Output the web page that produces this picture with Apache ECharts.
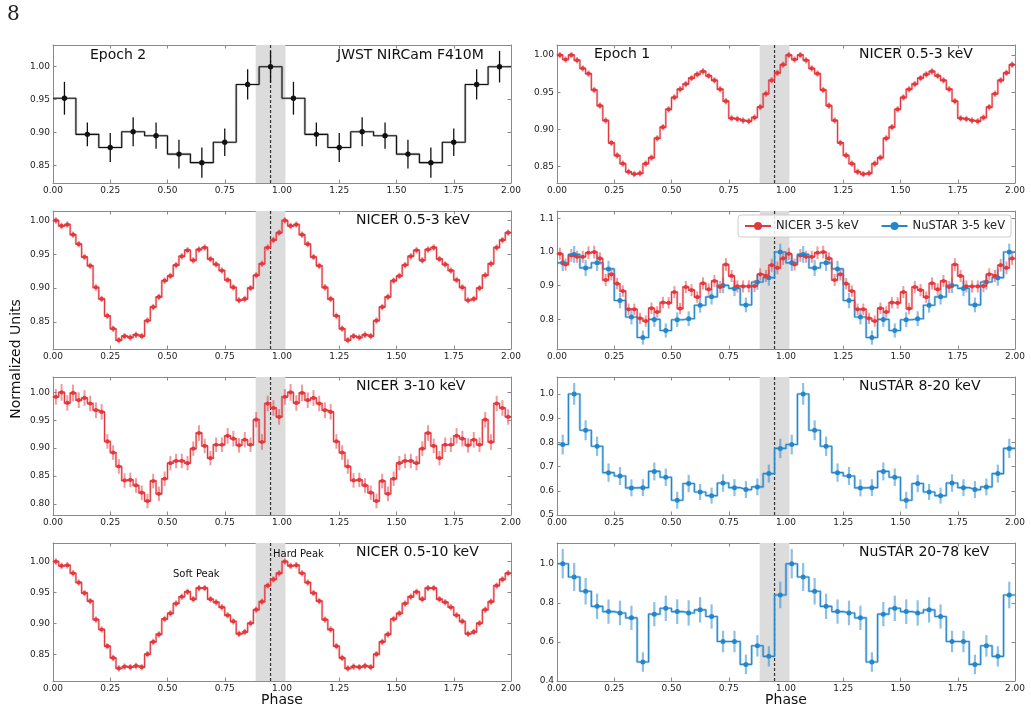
<!DOCTYPE html>
<html>
<head>
<meta charset="utf-8">
<script src="https://cdn.jsdelivr.net/npm/echarts@6/dist/echarts.min.js"></script>
<style>
  html, body { margin: 0; padding: 0; background: #ffffff; }
  #main { width: 1031px; height: 711px; }
</style>
</head>
<body>
<div id="main"></div>
<script>
// ---- data (one pulse cycle per array; the figure plots two cycles) ----
const phaseTicks = [0, 0.25, 0.5, 0.75, 1, 1.25, 1.5, 1.75, 2];
const bandPhase = [0.885, 1.015];
const peakPhase = 0.95;

const jwstValues = [0.952, 0.897, 0.877, 0.901, 0.895, 0.867, 0.854, 0.885, 0.973, 1.000];
const jwstErrors = [0.025, 0.018, 0.022, 0.022, 0.020, 0.022, 0.023, 0.021, 0.023, 0.024];

const nicerEp1SoftValues = [1.000, 0.994, 1.000, 0.993, 0.982, 0.975, 0.953, 0.932, 0.912, 0.882,
  0.865, 0.854, 0.843, 0.840, 0.841, 0.854, 0.862, 0.888, 0.903, 0.927,
  0.943, 0.954, 0.961, 0.969, 0.974, 0.978, 0.972, 0.966, 0.954, 0.938,
  0.915, 0.914, 0.912, 0.911, 0.916, 0.930, 0.948, 0.966, 0.976, 0.987];
const nicerEp1SoftErrors = [0.003, 0.003, 0.003, 0.003, 0.003, 0.003, 0.003, 0.003, 0.003, 0.003,
  0.003, 0.003, 0.003, 0.003, 0.003, 0.003, 0.003, 0.003, 0.003, 0.003,
  0.003, 0.003, 0.003, 0.003, 0.003, 0.003, 0.003, 0.003, 0.003, 0.003,
  0.003, 0.003, 0.003, 0.003, 0.003, 0.003, 0.003, 0.003, 0.003, 0.003];

const nicerSoftValues = [1.000, 0.992, 0.994, 0.979, 0.965, 0.946, 0.933, 0.901, 0.884, 0.859,
  0.840, 0.823, 0.829, 0.827, 0.831, 0.829, 0.852, 0.872, 0.887, 0.911,
  0.918, 0.934, 0.947, 0.956, 0.941, 0.957, 0.960, 0.943, 0.935, 0.926,
  0.912, 0.901, 0.882, 0.884, 0.900, 0.919, 0.936, 0.960, 0.971, 0.982];
const nicerSoftErrors = [0.003, 0.003, 0.003, 0.003, 0.003, 0.003, 0.003, 0.003, 0.003, 0.003,
  0.003, 0.003, 0.003, 0.003, 0.003, 0.003, 0.003, 0.003, 0.003, 0.003,
  0.003, 0.003, 0.003, 0.003, 0.003, 0.003, 0.003, 0.003, 0.003, 0.003,
  0.003, 0.003, 0.003, 0.003, 0.003, 0.003, 0.003, 0.003, 0.003, 0.003];

const nicer35Values = [0.995, 0.963, 0.990, 0.986, 0.986, 0.998, 1.000, 0.981, 0.917, 0.934,
  0.906, 0.884, 0.830, 0.830, 0.803, 0.795, 0.833, 0.822, 0.850, 0.849,
  0.881, 0.832, 0.896, 0.887, 0.866, 0.907, 0.889, 0.914, 0.896, 0.963,
  0.929, 0.898, 0.898, 0.898, 0.899, 0.934, 0.929, 0.961, 0.953, 0.981];
const nicer35Errors = [0.018, 0.018, 0.019, 0.018, 0.018, 0.019, 0.019, 0.018, 0.018, 0.018,
  0.017, 0.017, 0.017, 0.017, 0.017, 0.017, 0.017, 0.017, 0.017, 0.017,
  0.018, 0.017, 0.018, 0.018, 0.017, 0.018, 0.018, 0.018, 0.018, 0.019,
  0.018, 0.018, 0.018, 0.018, 0.018, 0.018, 0.018, 0.019, 0.019, 0.019];

const nustar35Values = [0.968, 0.993, 0.953, 0.968, 0.950, 0.856, 0.807, 0.746, 0.800, 0.767,
  0.799, 0.802, 0.842, 0.867, 0.901, 0.892, 0.843, 0.911, 0.924, 1.000];
const nustar35Errors = [0.024, 0.025, 0.024, 0.024, 0.024, 0.023, 0.022, 0.021, 0.022, 0.021,
  0.022, 0.022, 0.022, 0.023, 0.023, 0.023, 0.022, 0.023, 0.024, 0.025];

const nicerHardValues = [0.992, 1.000, 0.981, 0.999, 0.986, 0.990, 0.980, 0.968, 0.965, 0.912,
  0.892, 0.867, 0.842, 0.843, 0.833, 0.820, 0.805, 0.841, 0.818, 0.845,
  0.873, 0.877, 0.877, 0.873, 0.899, 0.927, 0.904, 0.882, 0.906, 0.906,
  0.922, 0.917, 0.905, 0.915, 0.906, 0.951, 0.911, 0.980, 0.972, 0.956];
const nicerHardErrors = [0.014, 0.015, 0.014, 0.015, 0.014, 0.014, 0.014, 0.014, 0.014, 0.013,
  0.013, 0.013, 0.013, 0.013, 0.013, 0.013, 0.013, 0.013, 0.013, 0.013,
  0.013, 0.013, 0.013, 0.013, 0.013, 0.014, 0.013, 0.013, 0.013, 0.013,
  0.014, 0.014, 0.013, 0.014, 0.013, 0.014, 0.014, 0.014, 0.014, 0.014];

const nustar820Values = [0.791, 1.000, 0.850, 0.784, 0.675, 0.661, 0.612, 0.613, 0.680, 0.656,
  0.561, 0.630, 0.595, 0.580, 0.632, 0.613, 0.605, 0.616, 0.671, 0.775];
const nustar820Errors = [0.041, 0.045, 0.041, 0.040, 0.038, 0.037, 0.035, 0.035, 0.037, 0.036,
  0.035, 0.036, 0.033, 0.033, 0.036, 0.035, 0.035, 0.035, 0.037, 0.040];

const nicerBroadValues = [1.000, 0.993, 0.994, 0.981, 0.966, 0.949, 0.936, 0.906, 0.890, 0.863,
  0.844, 0.827, 0.830, 0.829, 0.831, 0.829, 0.850, 0.870, 0.882, 0.907,
  0.916, 0.932, 0.943, 0.951, 0.939, 0.957, 0.957, 0.939, 0.934, 0.926,
  0.913, 0.903, 0.883, 0.886, 0.900, 0.922, 0.935, 0.961, 0.971, 0.981];
const nicerBroadErrors = nicerSoftErrors;

const nustar2078Values = [1.000, 0.932, 0.859, 0.782, 0.755, 0.748, 0.723, 0.497, 0.742, 0.772,
  0.755, 0.748, 0.764, 0.730, 0.602, 0.602, 0.485, 0.580, 0.526, 0.840];
const nustar2078Errors = [0.075, 0.072, 0.068, 0.065, 0.062, 0.063, 0.062, 0.050, 0.062, 0.065,
  0.063, 0.065, 0.065, 0.062, 0.055, 0.055, 0.050, 0.055, 0.052, 0.068];

// ---- styles ----
const FONT = 'DejaVu Sans';
const palette = {
  black: { dark: '#111111', light: 'rgba(120,120,120,0.4)', err: '#111111', errW: 1.3, r: 2.7, stepW: 2.6, cross: 0 },
  red: { dark: '#e2393e', light: 'rgba(236,90,96,0.4)', err: 'rgba(230,70,76,0.55)', errW: 2, r: 2.1, stepW: 2.4, cross: 3.2 },
  blue: { dark: '#2586c9', light: 'rgba(64,152,214,0.45)', err: 'rgba(50,140,205,0.55)', errW: 2.2, r: 2.5, stepW: 2.6, cross: 0 }
};

const leftX = 53, rightX = 557, plotW = 458, plotH = 138;
const rowTops = [45, 211, 377, 543];

const panels = [
  { x: leftX, y: rowTops[0], yMin: 0.823, yMax: 1.033, ticks: [0.85, 0.90, 0.95, 1.00], dec: 2,
    sets: [{ values: jwstValues, errors: jwstErrors, col: 'black' }] },
  { x: rightX, y: rowTops[0], yMin: 0.828, yMax: 1.0135, ticks: [0.85, 0.90, 0.95, 1.00], dec: 2,
    sets: [{ values: nicerEp1SoftValues, errors: nicerEp1SoftErrors, col: 'red' }] },
  { x: leftX, y: rowTops[1], yMin: 0.810, yMax: 1.014, ticks: [0.85, 0.90, 0.95, 1.00], dec: 2,
    sets: [{ values: nicerSoftValues, errors: nicerSoftErrors, col: 'red' }] },
  { x: rightX, y: rowTops[1], yMin: 0.712, yMax: 1.122, ticks: [0.8, 0.9, 1.0, 1.1], dec: 1,
    sets: [{ values: nustar35Values, errors: nustar35Errors, col: 'blue', name: 'NuSTAR 3-5 keV' },
           { values: nicer35Values, errors: nicer35Errors, col: 'red', name: 'NICER 3-5 keV' }] },
  { x: leftX, y: rowTops[2], yMin: 0.780, yMax: 1.0276, ticks: [0.80, 0.85, 0.90, 0.95, 1.00], dec: 2,
    sets: [{ values: nicerHardValues, errors: nicerHardErrors, col: 'red' }] },
  { x: rightX, y: rowTops[2], yMin: 0.5, yMax: 1.070, ticks: [0.5, 0.6, 0.7, 0.8, 0.9, 1.0], dec: 1,
    sets: [{ values: nustar820Values, errors: nustar820Errors, col: 'blue' }] },
  { x: leftX, y: rowTops[3], yMin: 0.8066, yMax: 1.030, ticks: [0.85, 0.90, 0.95, 1.00], dec: 2,
    sets: [{ values: nicerBroadValues, errors: nicerBroadErrors, col: 'red' }] },
  { x: rightX, y: rowTops[3], yMin: 0.4, yMax: 1.106, ticks: [0.4, 0.6, 0.8, 1.0], dec: 1,
    sets: [{ values: nustar2078Values, errors: nustar2078Errors, col: 'blue' }] }
];

// two cycles of bin centres, values and errors
function twoCycles(values, errors) {
  const n = values.length;
  const pts = [];
  for (let c = 0; c < 2; c++) {
    for (let i = 0; i < n; i++) {
      pts.push([c + (i + 0.5) / n, values[i], errors[i]]);
    }
  }
  return pts;
}

function stepData(pts) {
  const d = pts.map(p => [p[0], p[1]]);
  d.unshift([0, pts[0][1]]);
  d.push([2, pts[pts.length - 1][1]]);
  return d;
}

function errRender(col) {
  const s = palette[col];
  return function (params, api) {
    const x = api.value(0), y = api.value(1), e = api.value(2);
    const c = api.coord([x, y]);
    const t = api.coord([x, y + e]);
    const b = api.coord([x, y - e]);
    const top = Math.min(t[1], c[1] - s.cross), bot = Math.max(b[1], c[1] + s.cross);
    const kids = [
      { type: 'line', shape: { x1: c[0], y1: top, x2: c[0], y2: bot },
        style: { stroke: s.err, lineWidth: s.errW } }
    ];
    if (s.cross) {
      kids.push({ type: 'line', shape: { x1: c[0] - s.cross, y1: c[1], x2: c[0] + s.cross, y2: c[1] },
        style: { stroke: s.dark, lineWidth: 1.6 } });
    }
    kids.push({ type: 'circle', shape: { cx: c[0], cy: c[1], r: s.r }, style: { fill: s.dark } });
    return { type: 'group', children: kids };
  };
}

function bandRender(params, api) {
  const cs = params.coordSys;
  const x0 = api.coord([api.value(0), 1])[0];
  const x1 = api.coord([api.value(1), 1])[0];
  const xp = api.coord([peakPhase, 1])[0];
  return {
    type: 'group',
    children: [
      { type: 'rect', shape: { x: x0, y: cs.y, width: x1 - x0, height: cs.height },
        style: { fill: '#dcdcdc' } },
      { type: 'line', shape: { x1: xp, y1: cs.y, x2: xp, y2: cs.y + cs.height },
        style: { stroke: '#333333', lineWidth: 1.2, lineDash: [3, 2] }, z2: 10 }
    ]
  };
}

const grids = [], xAxes = [], yAxes = [], series = [];
const frameColor = '#8a8a8a';
const labelStyle = { fontFamily: FONT, fontSize: 9, color: '#222222' };

panels.forEach((p, i) => {
  grids.push({ left: p.x, top: p.y, width: plotW, height: plotH, containLabel: false, outerBoundsMode: 'none' });
  ['bottom', 'top'].forEach(pos => {
    xAxes.push({
      gridIndex: i, type: 'value', position: pos, min: 0, max: 2, interval: 0.25,
      axisLine: { show: true, onZero: false, lineStyle: { color: frameColor, width: 1 } },
      axisTick: { show: true, inside: true, length: 3.5, lineStyle: { color: frameColor } },
      axisLabel: Object.assign({ show: pos === 'bottom', margin: 3, formatter: v => v.toFixed(2) }, labelStyle),
      splitLine: { show: false }
    });
  });
  ['left', 'right'].forEach(pos => {
    yAxes.push({
      gridIndex: i, type: 'value', position: pos, min: p.yMin, max: p.yMax,
      axisLine: { show: true, onZero: false, lineStyle: { color: frameColor, width: 1 } },
      axisTick: { show: true, inside: true, length: 3.5, customValues: p.ticks, lineStyle: { color: frameColor } },
      axisLabel: Object.assign({ show: pos === 'left', margin: 3, customValues: p.ticks,
        formatter: v => Number(v).toFixed(p.dec) }, labelStyle),
      splitLine: { show: false }
    });
  });

  const xi = 2 * i, yi = 2 * i;
  series.push({
    type: 'custom', xAxisIndex: xi, yAxisIndex: yi, z: 1, silent: true,
    data: [bandPhase], encode: { x: [0, 1] }, renderItem: bandRender
  });
  p.sets.forEach(set => {
    const s = palette[set.col];
    const pts = twoCycles(set.values, set.errors);
    const steps = stepData(pts);
    series.push({
      type: 'line', xAxisIndex: xi, yAxisIndex: yi, step: 'middle', z: 2, silent: true,
      data: steps, showSymbol: false, lineStyle: { color: s.light, width: s.stepW }
    });
    series.push({
      type: 'custom', xAxisIndex: xi, yAxisIndex: yi, z: 3, silent: true,
      data: pts, encode: { x: 0, y: 1 }, renderItem: errRender(set.col)
    });
    series.push({
      name: set.name || undefined,
      type: 'line', xAxisIndex: xi, yAxisIndex: yi, step: 'middle', z: 4, silent: true,
      data: steps, symbol: 'circle', symbolSize: 5, showSymbol: false,
      itemStyle: { color: s.dark },
      lineStyle: { color: s.dark, width: 1.1 }
    });
  });
});

function txt(text, x, y, size, opts) {
  return Object.assign({
    type: 'text', silent: true, z: 20,
    style: Object.assign({ text: text, x: x, y: y, font: size + 'px "' + FONT + '"', fill: '#111111',
      align: 'left', verticalAlign: 'middle' }, (opts && opts.style) || {})
  }, (opts && opts.el) || {});
}

const graphics = [
  txt('8', 7, 15, 20, { style: { font: '20px "DejaVu Serif"', fill: '#222222' } }),
  txt('Epoch 2', 90, 55, 14),
  txt('JWST NIRCam F410M', 337, 55, 14),
  txt('Epoch 1', 594, 54, 14),
  txt('NICER 0.5-3 keV', 859, 54, 14),
  txt('NICER 0.5-3 keV', 356, 220, 14),
  txt('NICER 3-10 keV', 356, 386, 14),
  txt('NuSTAR 8-20 keV', 859, 386, 14),
  txt('NICER 0.5-10 keV', 356, 552, 14),
  txt('NuSTAR 20-78 keV', 859, 552, 14),
  txt('Soft Peak', 173, 574, 10),
  txt('Hard Peak', 273, 554, 10),
  txt('Phase', 282, 700, 14, { style: { align: 'center' } }),
  txt('Phase', 786, 700, 14, { style: { align: 'center' } }),
  txt('Normalized Units', 0, 0, 14, { style: { align: 'center' }, el: { rotation: Math.PI / 2, x: 16, y: 359 } })
];

const chart = echarts.init(document.getElementById('main'), null, { renderer: 'canvas' });
chart.setOption({
  animation: false,
  backgroundColor: '#ffffff',
  grid: grids,
  xAxis: xAxes,
  yAxis: yAxes,
  legend: {
    data: ['NICER 3-5 keV', 'NuSTAR 3-5 keV'],
    left: 738, top: 215, padding: [5, 6], itemGap: 22, itemWidth: 26, itemHeight: 10,
    backgroundColor: 'rgba(255,255,255,0.85)', borderColor: '#cccccc', borderWidth: 1, borderRadius: 3,
    textStyle: { fontFamily: FONT, fontSize: 11.5, color: '#222222' },
    selectedMode: false, z: 10
  },
  series: series,
  graphic: graphics
});
</script>
</body>
</html>
